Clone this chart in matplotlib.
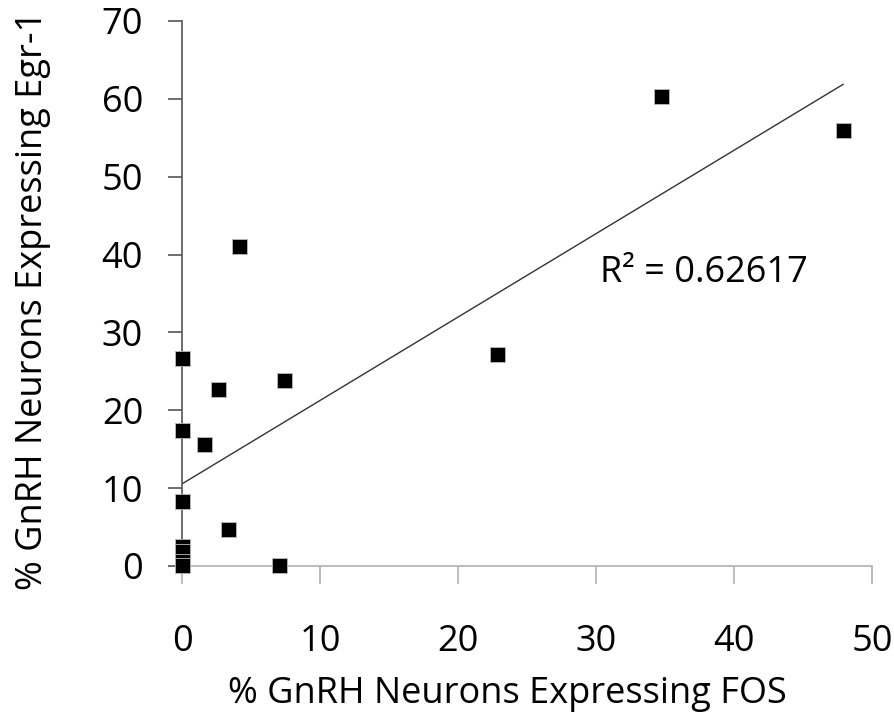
import numpy as np
import matplotlib
matplotlib.use("Agg")
import matplotlib.pyplot as plt

plt.rcParams['font.family'] = ['Open Sans', 'DejaVu Sans']

fos = [0, 0, 0, 0, 0, 0, 0, 1.6, 2.6, 3.3, 4.1, 7.0, 7.4, 22.8, 34.7, 47.9]
egr1 = [26.7, 17.5, 8.4, 2.6, 1.9, 0.6, 0.1, 15.7, 22.7, 4.7, 41.1, 0.1, 23.9, 27.2, 60.3, 56.0]
r2_label = "R² = 0.62617"
xticks = [0, 10, 20, 30, 40, 50]
yticks = [0, 10, 20, 30, 40, 50, 60, 70]

fig = plt.figure(figsize=(8.95, 7.21), dpi=100)
ax = fig.add_axes([0.2034, 0.215, 0.771, 0.756])

x = np.array(fos)
y = np.array(egr1)
slope, intercept = np.polyfit(x, y, 1)
xl = np.array([0, x.max()])
ax.plot(xl, intercept + slope * xl, color='#333333', lw=1.0, zorder=2)

ax.plot(x, y, linestyle='none', marker='s', markersize=10.8, markerfacecolor='black',
        markeredgecolor='#bbbbbb', markeredgewidth=0.6, zorder=3, clip_on=False)

ax.set_xlim(0, 50)
ax.set_ylim(0, 70)
ax.set_xticks(xticks)
ax.set_yticks(yticks)

for s in ['top', 'right']:
    ax.spines[s].set_visible(False)
ax.spines['left'].set_color('#555555')
ax.spines['left'].set_linewidth(1.2)
ax.spines['bottom'].set_color('#b0b0b0')
ax.spines['bottom'].set_linewidth(1.2)

ax.tick_params(axis='y', direction='out', length=10, width=1.2, color='#555555',
               labelsize=26, pad=18)
ax.tick_params(axis='x', direction='out', length=13, width=1.2, color='#b0b0b0',
               labelsize=26, pad=29)

ax.text(30.3, 37.6, r2_label, fontsize=26, va='center', ha='left')

ax.set_xlabel("% GnRH Neurons Expressing FOS", fontsize=26)
ax.set_ylabel("% GnRH Neurons Expressing Egr-1", fontsize=26)
ax.xaxis.label.set_va('center')
ax.yaxis.label.set_va('center')
ax.xaxis.set_label_coords(0.471, -0.235)
ax.yaxis.set_label_coords(-0.216, 0.487)

fig.savefig("out.png", dpi=100)
